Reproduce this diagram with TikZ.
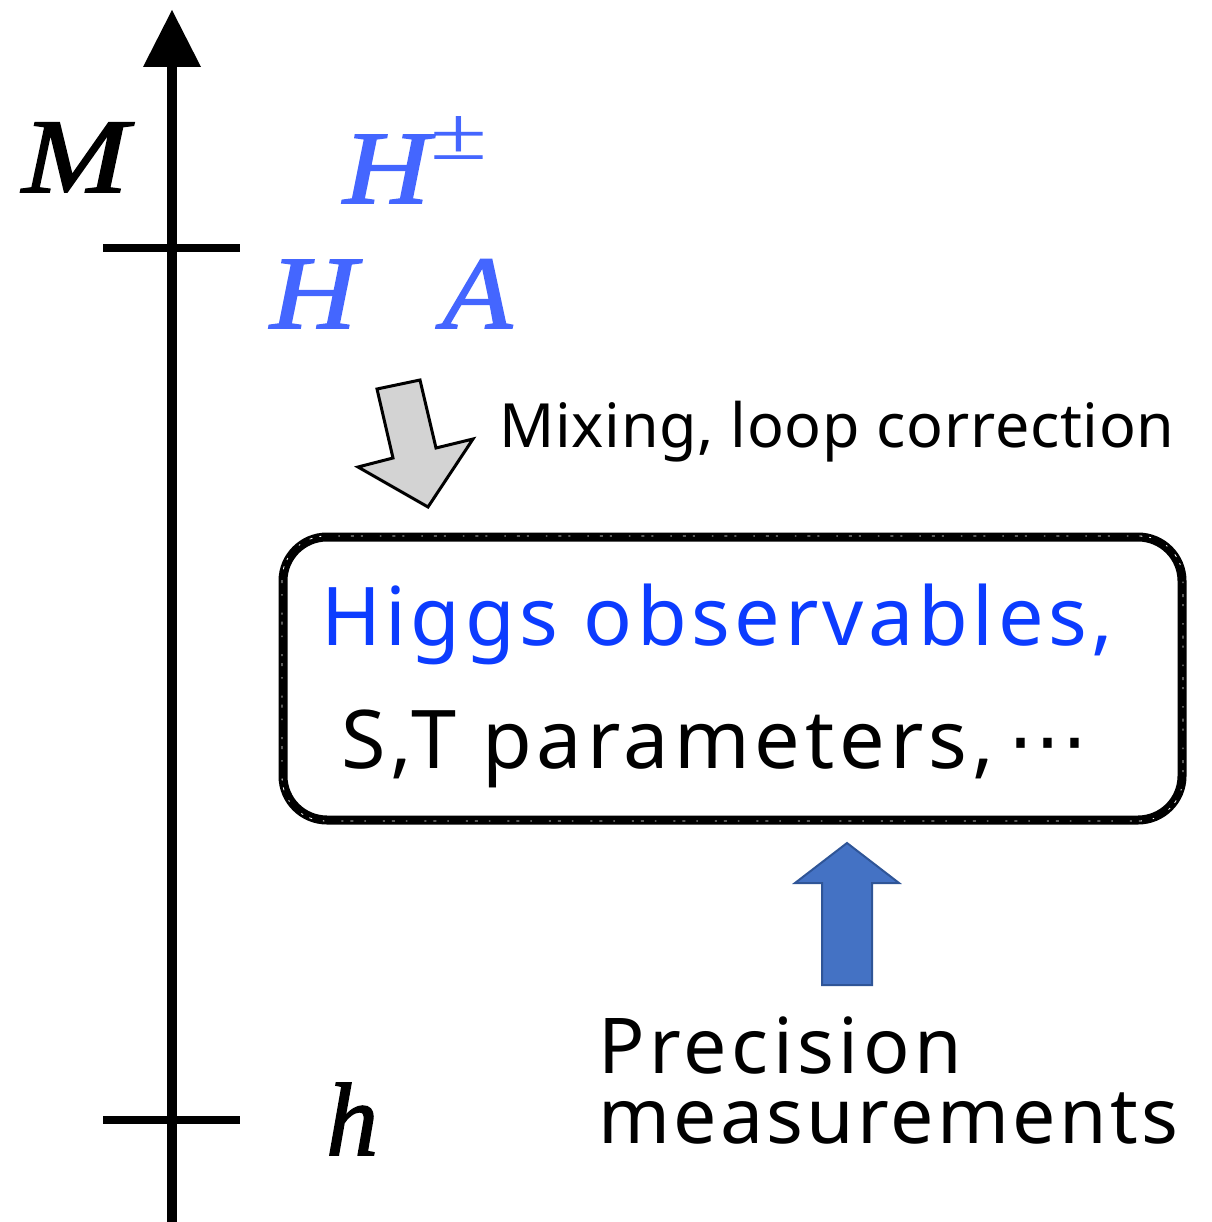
\documentclass[tikz,border=0pt]{standalone}
\usepackage{fontspec}
\setmainfont{Noto Sans}
\newfontfamily\myit{Liberation Serif Italic}[FakeBold=1.5]
\newfontfamily\myrm{Liberation Serif}
\newfontfamily\mydj{DejaVu Sans}
\definecolor{lightblue}{HTML}{4466FF}
\definecolor{higgsblue}{HTML}{0C3CFF}
\definecolor{arrowblue}{HTML}{4472C4}
\definecolor{arrowedge}{HTML}{2F5597}
\definecolor{arrowgrey}{HTML}{D3D3D3}
\tikzset{
  lbl/.style={inner sep=0pt, anchor=base west},
  axisline/.style={line width=10pt},
  tick/.style={line width=8pt},
  roughbox/.style={line width=9pt, rounded corners=44pt},
  speckle/.style={white, line width=0.8pt, rounded corners=44pt,
    dash pattern=on 3pt off 11pt on 1.5pt off 17pt on 2pt off 7pt},
}
\newcommand{\ls}[2]{{\addfontfeatures{LetterSpace=#1}#2}}
\begin{document}
\begin{tikzpicture}[x=1pt,y=-1pt]
\useasboundingbox (0,0) rectangle (1211,1222);
% axis
\coordinate (axbot) at (172,1222);
\coordinate (axtop) at (172,66);
\draw[axisline] (axbot) -- (axtop);
\fill (143,67) -- (172,10) -- (201,67) -- cycle;
\coordinate (t1a) at (103,248); \coordinate (t1b) at (240,248);
\coordinate (t2a) at (103,1120); \coordinate (t2b) at (240,1120);
\draw[tick] (t1a) -- (t1b);
\draw[tick] (t2a) -- (t2b);
% math labels
\node[lbl] (M) at (22,192) {\scalebox{1.2}[1]{\fontsize{106}{110}\selectfont\myit M}};
\node[lbl, text=lightblue] (Hpm) at (343,203) {\scalebox{1.15}[1]{\fontsize{104}{110}\selectfont\myit H}};
\node[lbl, text=lightblue] (pm) at (430,160) {\resizebox{57pt}{43pt}{\fontsize{80}{90}\selectfont\myrm ±}};
\node[lbl, text=lightblue] (H) at (270,328) {\scalebox{1.15}[1]{\fontsize{104}{110}\selectfont\myit H}};
\node[lbl, text=lightblue] (A) at (442,328) {\scalebox{1.1}[1]{\fontsize{104}{110}\selectfont\myit A}};
\node[lbl] (h) at (326,1155) {\fontsize{104}{110}\selectfont\myit h};
% grey arrow
\filldraw[fill=arrowgrey, draw=black, line width=3pt, line join=miter]
  (377,389) -- (420,380) -- (436,448) -- (473,439) -- (428,507) -- (358,467) -- (393,458) -- cycle;
\node[lbl] (mix) at (499,447) {\fontsize{61}{70}\selectfont\ls{1.2}{Mixing, loop correction}};
% box
\draw[roughbox] (283,537) rectangle (1182,820);
\draw[speckle] (282,536) rectangle (1183,821);
\node[lbl, text=higgsblue] (obs) at (321,645) {\fontsize{81}{90}\selectfont\ls{5.5}{Higgs observables,}};
\node[lbl] (st) at (341,768) {\fontsize{81}{90}\selectfont\ls{6}{S,T parameters,}\kern14pt{\mydj ⋯}};
% blue arrow
\filldraw[fill=arrowblue, draw=arrowedge, line width=2pt]
  (822,985) -- (822,883) -- (795,883) -- (847,843) -- (899,883) -- (872,883) -- (872,985) -- cycle;
\node[lbl] (prec) at (598,1073) {\fontsize{77}{80}\selectfont\ls{5.8}{Precision}};
\node[lbl] (meas) at (598,1143) {\fontsize{77}{80}\selectfont\ls{4.2}{measurements}};
\end{tikzpicture}
\end{document}
